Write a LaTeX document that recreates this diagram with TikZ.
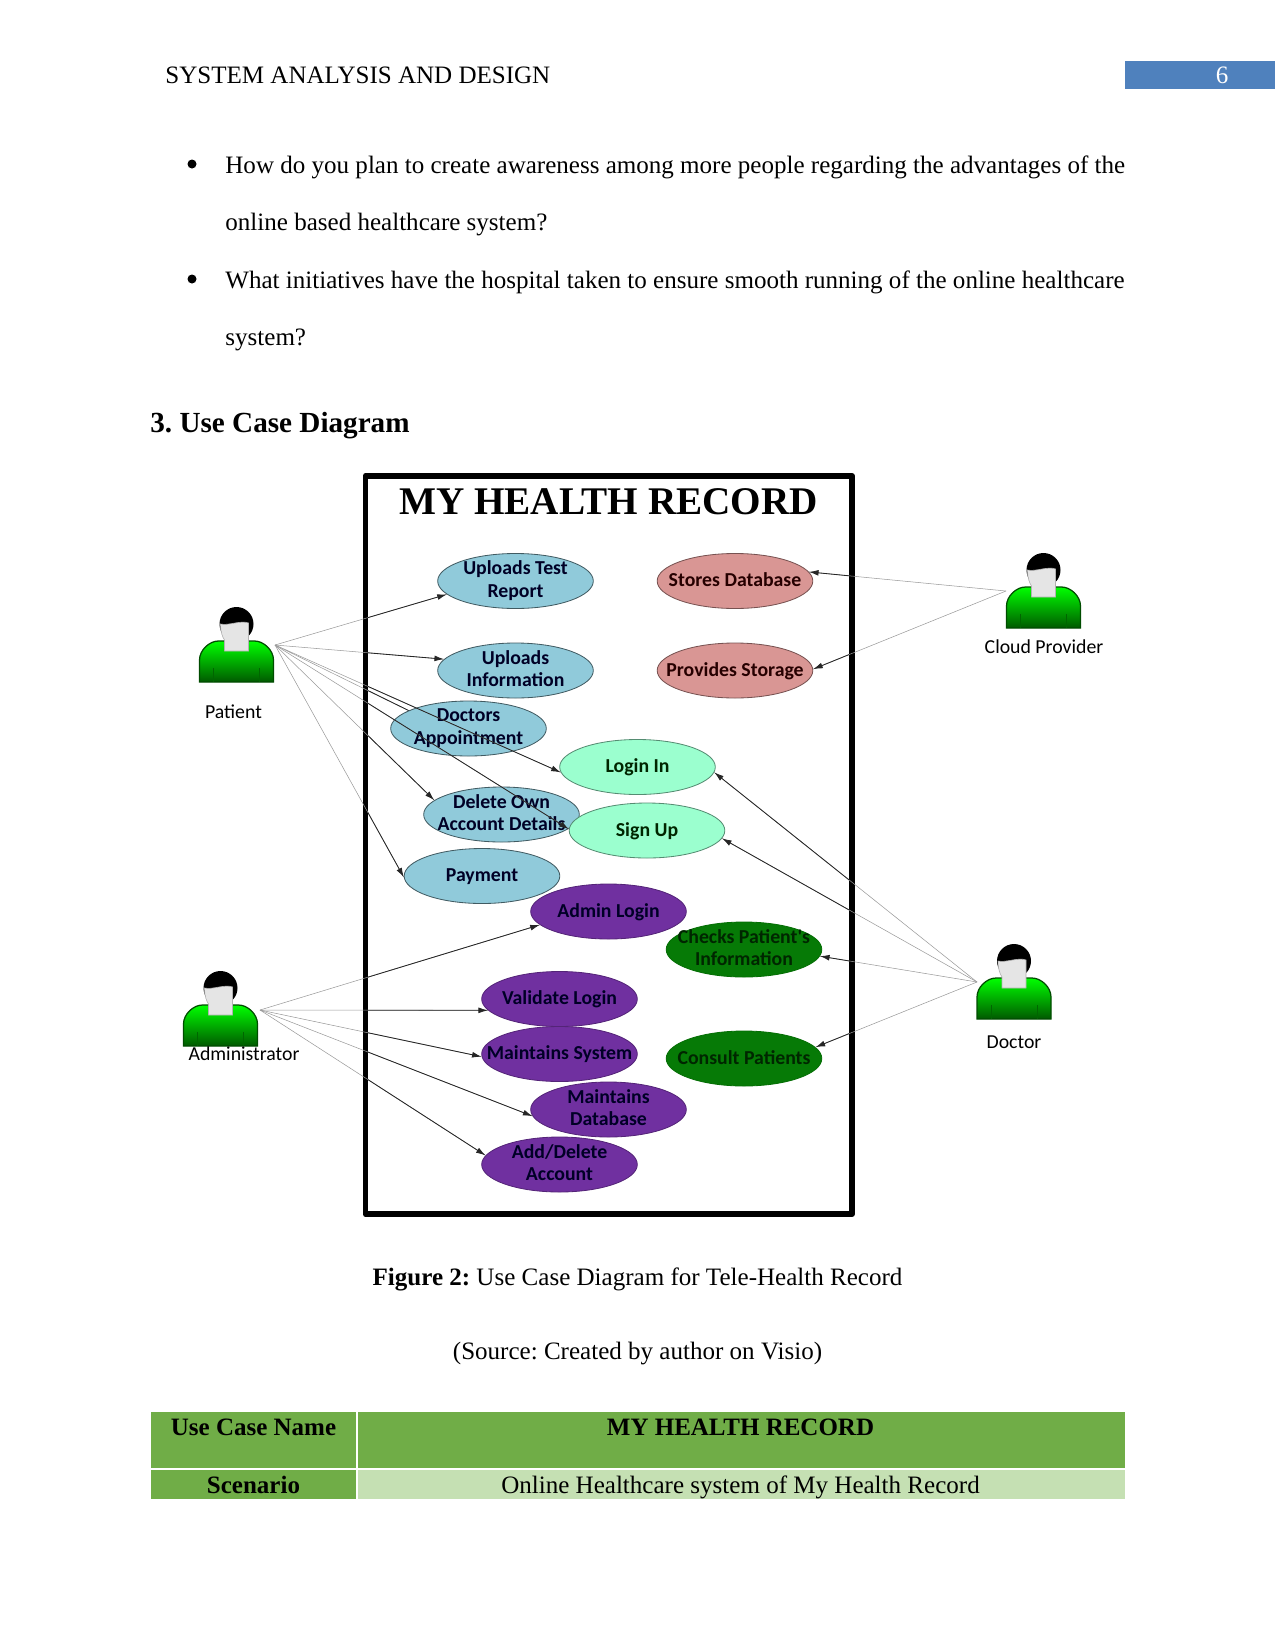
\documentclass[tikz,border=0pt]{standalone}
\usepackage{fontspec}
\setmainfont{Liberation Serif}
\newfontfamily\casefont{Carlito}
\usetikzlibrary{shapes.geometric,arrows.meta}
\definecolor{casecyan}{HTML}{90CADA}
\definecolor{casepink}{HTML}{D99694}
\definecolor{casemint}{HTML}{9BFFCF}
\definecolor{casepurple}{HTML}{7030A0}
\definecolor{casegreen}{HTML}{067A06}
\definecolor{headblue}{HTML}{4F81BD}
\definecolor{rowgreen}{HTML}{70AD47}
\definecolor{rowpale}{HTML}{C5E0B3}
\tikzset{
    pagetext/.style={inner sep=0pt,font=\fontsize{12.02bp}{14bp}\selectfont},
    usecase/.style={ellipse,inner sep=-15pt,minimum width=74.7bp,minimum height=26.4bp,
        align=center,font=\casefont\bfseries\fontsize{9.5bp}{10.9bp}\selectfont,
        execute at begin node={\rule{0pt}{7.3bp}},execute at end node={\rule[-2bp]{0pt}{2bp}}},
    bluecase/.style={usecase,draw=black!55!casecyan,fill=casecyan,text=black!85!blue},
    pinkcase/.style={usecase,draw=black!45!casepink,fill=casepink,text=black!85!red},
    mintcase/.style={usecase,draw=black!45!casemint,fill=casemint,text=black!85!green},
    purplecase/.style={usecase,draw=black!25!casepurple,fill=casepurple,text=black!85!blue},
    greencase/.style={usecase,draw=black!10!casegreen,fill=casegreen,text=black!85!green},
    actorname/.style={inner sep=0pt,font=\casefont\fontsize{9.5bp}{11bp}\selectfont},
    actor/.pic={
        \draw[draw=black!70!green,top color=green,bottom color=green!35!black,line width=0.6bp]
            (-37,0) -- (-37,-22) .. controls (-37,-32) and (-27,-41) .. (-18,-41)
            -- (18,-41) .. controls (27,-41) and (37,-32) .. (37,-22) -- (37,0) -- cycle;
        \draw[black!60!green,line width=0.4bp] (-23,-14) -- (-23,0) (23,-14) -- (23,0);
        \fill[black] (0,-58) circle (17);
        \filldraw[draw=black!30,fill=black!10,line width=0.3bp]
            (-16,-58) .. controls (-16,-50) and (-14,-45) .. (-12,-42) -- (-12,-31) -- (12,-31)
            -- (12,-59) .. controls (4,-62) and (-8,-56) .. (-16,-58) -- cycle;
    },
    >={Latex[length=4.6bp,width=2.8bp]}
}
\newcommand{\assoc}[2]{
    \draw[black!40,line width=0.25bp] (#1) -- (#2);
    \begin{scope}
        \clip (368,479) rectangle (849,1210);
        \draw[->,black!85,line width=0.4bp] (#1) -- (#2);
    \end{scope}
}
\begin{document}
\frenchspacing
\begin{tikzpicture}[x=0.48bp,y=-0.48bp]
    \useasboundingbox (0,0) rectangle (1275,1650);

    % running head
    \fill[headblue] (1125,61) rectangle (1275,89);
    \node[pagetext,anchor=base west] (head) at (165,83) {SYSTEM ANALYSIS AND DESIGN};
    \node[pagetext,anchor=base,text=white] (pageno) at (1222,83) {6};

    % bullets and heading
    \fill (192,164) circle (4.5);
    \fill (192,279) circle (4.5);
    \node[pagetext,anchor=base west] (lineA) at (225,173) {How do you plan to create awareness among more people regarding the advantages of the};
    \node[pagetext,anchor=base west] (lineB) at (225,230) {online based healthcare system?};
    \node[pagetext,anchor=base west] (lineC) at (225,288) {What initiatives have the hospital taken to ensure smooth running of the online healthcare};
    \node[pagetext,anchor=base west] (lineD) at (225,345) {system?};
    \node[pagetext,anchor=base west,font=\bfseries\fontsize{14bp}{16bp}\selectfont] (heading) at (150,432) {3. Use Case Diagram};

    % system boundary
    \draw[line width=2.8bp,line join=round] (365.5,476) rectangle (852,1214);
    \node[inner sep=0pt,font=\bfseries\fontsize{18.8bp}{22bp}\selectfont] (title) at (608.5,502) {MY HEALTH RECORD};

    % actor end points of the associations
    \coordinate (patient) at (275,645);
    \coordinate (cloud) at (1006,591);
    \coordinate (doctor) at (977,982);
    \coordinate (admin) at (260,1010);

    % this association disappears under its ellipse
    \coordinate (doctEnd) at (430,721);
    \assoc{patient}{doctEnd}

    % use cases
    \node[bluecase] (upTest) at (515.5,581) {Uploads Test\\Report};
    \node[bluecase] (upInfo) at (515.5,670.5) {Uploads\\Information};
    \node[bluecase] (doctApp) at (468.5,728.5) {Doctors\\Appointment};
    \node[bluecase] (delAcc) at (501.5,814.5) {Delete Own\\Account Details};
    \node[bluecase] (pay) at (482,876) {Payment};
    \node[pinkcase] (stores) at (735,581) {Stores Database};
    \node[pinkcase] (provides) at (735,670.5) {Provides Storage};
    \node[mintcase] (login) at (637.5,767) {Login In};
    \node[mintcase] (signup) at (647,830.5) {Sign Up};
    \node[purplecase] (adLogin) at (608.5,911.5) {Admin Login};
    \node[purplecase] (validate) at (559.5,999) {Validate Login};
    \node[purplecase] (mainSys) at (559.5,1054) {Maintains System};
    \node[purplecase] (mainDb) at (608.5,1109.5) {Maintains\\Database};
    \node[purplecase] (addDel) at (559.5,1164.5) {Add/Delete\\Account};
    \node[greencase] (checks) at (744,949.5) {Checks Patient's\\Information};
    \node[greencase] (consult) at (744,1058.5) {Consult Patients};

    % associations
    \foreach \from/\to in {patient/upTest.191,patient/upInfo.171,patient/login.184,
        patient/signup.179,patient/delAcc.168,patient/pay.181,
        cloud/stores.7,cloud/provides.1,
        doctor/login.-4,doctor/signup.-6,doctor/checks.-5,doctor/consult.9,
        admin/adLogin.191,admin/validate.189,admin/mainSys.182,admin/mainDb.185,admin/addDel.173} {
        \assoc{\from}{\to}
    }

    % actors
    \pic at (236.5,682) {actor};
    \pic at (1043.5,628) {actor};
    \pic at (1014,1019) {actor};
    \pic at (220.5,1046) {actor};
    \node[actorname] (patientName) at (233.5,712) {Patient};
    \node[actorname] (cloudName) at (1044,647) {Cloud Provider};
    \node[actorname] (doctorName) at (1014,1042) {Doctor};
    \node[actorname] (adminName) at (244,1054) {Administrator};

    % caption
    \node[pagetext,anchor=base] (caption) at (637.5,1285) {\textbf{Figure 2:} Use Case Diagram for Tele-Health Record};
    \node[pagetext,anchor=base] (source) at (637.5,1359) {(Source: Created by author on Visio)};

    % table
    \fill[rowgreen] (151,1412) rectangle (1124.5,1499);
    \fill[rowpale] (357.5,1469) rectangle (1124.5,1499);
    \draw[white,line width=0.5bp] (357,1412) -- (357,1499) (151,1469) -- (1124.5,1469);
    \node[pagetext,anchor=base,font=\bfseries\fontsize{12bp}{14bp}\selectfont] (cellA) at (253.5,1435.5) {Use Case Name};
    \node[pagetext,anchor=base,font=\bfseries\fontsize{12bp}{14bp}\selectfont] (cellB) at (740.5,1435.5) {MY HEALTH RECORD};
    \node[pagetext,anchor=base,font=\bfseries\fontsize{12bp}{14bp}\selectfont] (cellC) at (253.5,1493.5) {Scenario};
    \node[pagetext,anchor=base] (cellD) at (740.5,1493.5) {Online Healthcare system of My Health Record};
\end{tikzpicture}
\end{document}
